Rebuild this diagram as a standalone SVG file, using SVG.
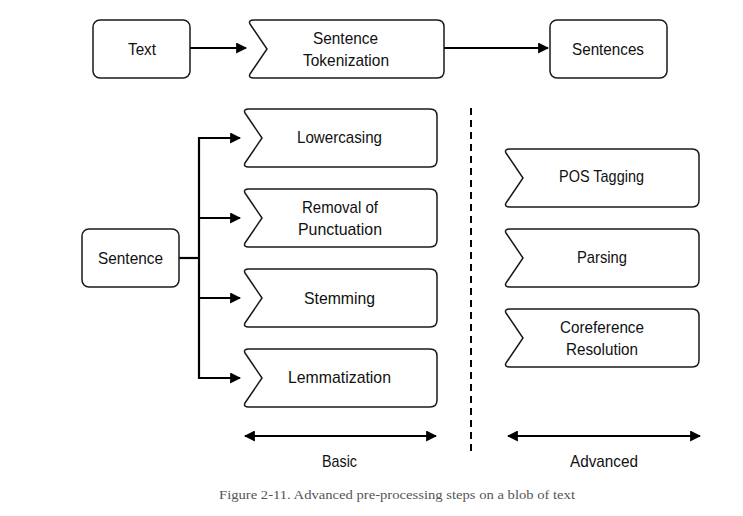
<svg xmlns="http://www.w3.org/2000/svg" width="743" height="516" viewBox="0 0 743 516">
<defs>
<style>
.box{fill:#fff;stroke:#1a1a1a;stroke-width:1.5}
.lbl{font-family:"Liberation Sans",Arial,sans-serif;font-size:17px;fill:#111;text-anchor:middle}
.ln{fill:none;stroke:#000;stroke-width:2.2}
.dash{fill:none;stroke:#000;stroke-width:2;stroke-dasharray:7,5}
.cap{font-family:"Liberation Serif","Times New Roman",serif;font-size:13.5px;fill:#555}
</style>
<marker id="ah" viewBox="0 0 10 10" refX="9" refY="5" markerWidth="5" markerHeight="5" orient="auto-start-reverse" markerUnits="strokeWidth">
<path d="M0,0 L10,5 L0,10 z" fill="#000"/>
</marker>
</defs>
<rect width="743" height="516" fill="#fff"/>
<g id="connectors">
<line class="ln" x1="190" y1="48" x2="246" y2="48" marker-end="url(#ah)"/>
<line class="ln" x1="444" y1="48" x2="548" y2="48" marker-end="url(#ah)"/>
<polyline class="ln" points="179,258 199,258"/>
<line class="ln" x1="199" y1="137" x2="199" y2="379"/>
<line class="ln" x1="198" y1="138" x2="240" y2="138" marker-end="url(#ah)"/>
<line class="ln" x1="198" y1="218" x2="240" y2="218" marker-end="url(#ah)"/>
<line class="ln" x1="198" y1="298" x2="240" y2="298" marker-end="url(#ah)"/>
<line class="ln" x1="198" y1="378" x2="240" y2="378" marker-end="url(#ah)"/>
<line class="dash" x1="471" y1="108" x2="471" y2="452"/>
<line class="ln" x1="245" y1="436" x2="436" y2="436" marker-start="url(#ah)" marker-end="url(#ah)"/>
<line class="ln" x1="508" y1="436" x2="700" y2="436" marker-start="url(#ah)" marker-end="url(#ah)"/>
</g>
<g id="text-node">
<rect class="box" x="93" y="20" width="97" height="58" rx="7"/>
<text class="lbl" x="142" y="55" textLength="28" lengthAdjust="spacingAndGlyphs">Text</text>
</g>
<g id="sentence-tokenization">
<path class="box" d="M254,20 H437 Q444,20 444,27 V71 Q444,78 437,78 H254 Q248,78 250,74 L267,49 L250,24 Q248,20 254,20 Z"/>
<text class="lbl" x="345.5" y="44" textLength="65" lengthAdjust="spacingAndGlyphs">Sentence</text>
<text class="lbl" x="346" y="66" textLength="86" lengthAdjust="spacingAndGlyphs">Tokenization</text>
</g>
<g id="sentences">
<rect class="box" x="550" y="20" width="117" height="58" rx="7"/>
<text class="lbl" x="608" y="55" textLength="72" lengthAdjust="spacingAndGlyphs">Sentences</text>
</g>
<g id="sentence">
<rect class="box" x="82" y="229" width="97" height="58" rx="7"/>
<text class="lbl" x="130.5" y="264" textLength="65" lengthAdjust="spacingAndGlyphs">Sentence</text>
</g>
<g id="lowercasing">
<path class="box" d="M249,109 H430 Q437,109 437,116 V160 Q437,167 430,167 H249 Q243,167 245,163 L262,138 L245,113 Q243,109 249,109 Z"/>
<text class="lbl" x="339.5" y="143" textLength="85" lengthAdjust="spacingAndGlyphs">Lowercasing</text>
</g>
<g id="removal-of-punctuation">
<path class="box" d="M249,189 H430 Q437,189 437,196 V240 Q437,247 430,247 H249 Q243,247 245,243 L262,218 L245,193 Q243,189 249,189 Z"/>
<text class="lbl" x="340" y="213" textLength="76" lengthAdjust="spacingAndGlyphs">Removal of</text>
<text class="lbl" x="340" y="235" textLength="84" lengthAdjust="spacingAndGlyphs">Punctuation</text>
</g>
<g id="stemming">
<path class="box" d="M249,269 H430 Q437,269 437,276 V320 Q437,327 430,327 H249 Q243,327 245,323 L262,298 L245,273 Q243,269 249,269 Z"/>
<text class="lbl" x="339.5" y="304" textLength="71" lengthAdjust="spacingAndGlyphs">Stemming</text>
</g>
<g id="lemmatization">
<path class="box" d="M249,349 H430 Q437,349 437,356 V400 Q437,407 430,407 H249 Q243,407 245,403 L262,378 L245,353 Q243,349 249,349 Z"/>
<text class="lbl" x="339.5" y="383" textLength="103" lengthAdjust="spacingAndGlyphs">Lemmatization</text>
</g>
<g id="pos-tagging">
<path class="box" d="M510,149 H692 Q699,149 699,156 V200 Q699,207 692,207 H510 Q504,207 506,203 L523,178 L506,153 Q504,149 510,149 Z"/>
<text class="lbl" x="601.5" y="182" textLength="85" lengthAdjust="spacingAndGlyphs">POS Tagging</text>
</g>
<g id="parsing">
<path class="box" d="M510,229 H692 Q699,229 699,236 V280 Q699,287 692,287 H510 Q504,287 506,283 L523,258 L506,233 Q504,229 510,229 Z"/>
<text class="lbl" x="602" y="263" textLength="50" lengthAdjust="spacingAndGlyphs">Parsing</text>
</g>
<g id="coreference-resolution">
<path class="box" d="M510,309 H692 Q699,309 699,316 V360 Q699,367 692,367 H510 Q504,367 506,363 L523,338 L506,313 Q504,309 510,309 Z"/>
<text class="lbl" x="602" y="333" textLength="84" lengthAdjust="spacingAndGlyphs">Coreference</text>
<text class="lbl" x="602" y="355" textLength="72" lengthAdjust="spacingAndGlyphs">Resolution</text>
</g>
<g id="labels">
<text class="lbl" x="339.5" y="467" textLength="35" lengthAdjust="spacingAndGlyphs">Basic</text>
<text class="lbl" x="604" y="467" textLength="68" lengthAdjust="spacingAndGlyphs">Advanced</text>
<text class="cap" x="219" y="499" textLength="356" lengthAdjust="spacingAndGlyphs">Figure 2-11. Advanced pre-processing steps on a blob of text</text>
</g>
</svg>
